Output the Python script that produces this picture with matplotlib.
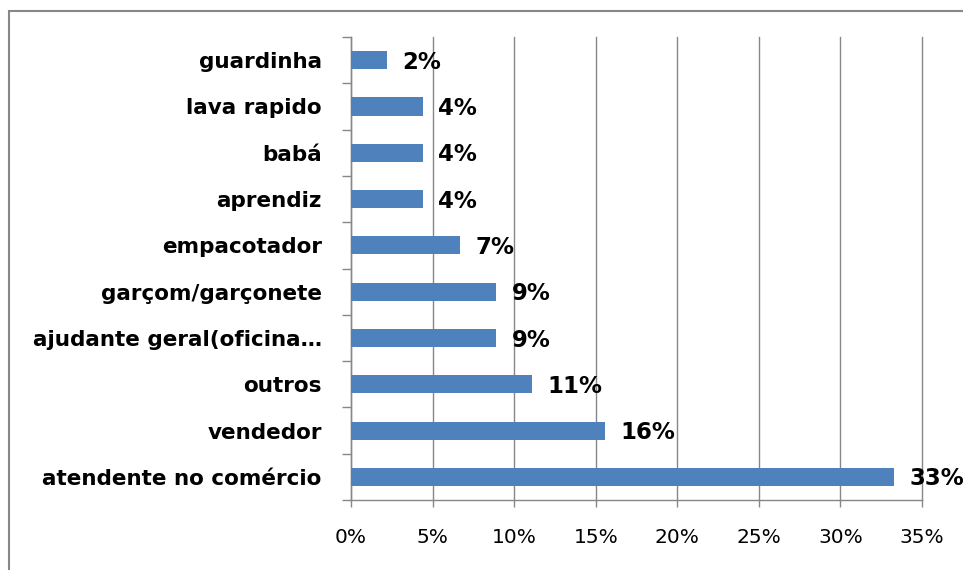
import matplotlib.pyplot as plt
from matplotlib.patches import Rectangle
from matplotlib.ticker import FixedLocator

# dados (de baixo para cima)
ocupacoes = ['atendente no comércio', 'vendedor', 'outros', 'ajudante geral(oficina…',
             'garçom/garçonete', 'empacotador', 'aprendiz', 'babá', 'lava rapido', 'guardinha']
percentuais = [33.3, 15.6, 11.1, 8.9, 8.9, 6.7, 4.4, 4.4, 4.4, 2.2]
rotulos = ['33%', '16%', '11%', '9%', '9%', '7%', '4%', '4%', '4%', '2%']
ticks_x = [0, 5, 10, 15, 20, 25, 30, 35]

plt.rcParams['font.family'] = ['DejaVu Sans']
cinza = '#878787'

fig = plt.figure(figsize=(9.63, 5.7), dpi=100)
ax = fig.add_axes([0.3645, 0.1228, 0.5929, 0.8122])

pos = range(len(ocupacoes))
ax.barh(pos, percentuais, height=0.39, color='#4F81BD', zorder=3)

for i, (v, r) in enumerate(zip(percentuais, rotulos)):
    ax.annotate(r, (v, i), xytext=(11, -1.5), textcoords='offset points',
                ha='left', va='center', fontsize=16.5, fontweight='bold', zorder=4,
                annotation_clip=False)

ax.set_xlim(0, 35)
ax.set_ylim(-0.5, len(ocupacoes) - 0.5)
ax.set_xticks(ticks_x)
ax.set_xticklabels([f'{t}%' for t in ticks_x], fontsize=14.5)
ax.set_yticks(list(pos))
ax.set_yticklabels(ocupacoes, fontsize=15.5, fontweight='bold')
ax.yaxis.set_minor_locator(FixedLocator([i - 0.5 for i in range(len(ocupacoes) + 1)]))

ax.tick_params(axis='y', which='major', length=0, pad=21)
ax.tick_params(axis='y', which='minor', length=6.5, color=cinza, width=1)
ax.tick_params(axis='x', length=5, color=cinza, width=1, pad=15)

ax.grid(axis='x', color=cinza, linewidth=1, zorder=0)
for linha in ax.get_xgridlines():
    linha.set_clip_on(False)
for s in ['top', 'right']:
    ax.spines[s].set_visible(False)
for s in ['left', 'bottom']:
    ax.spines[s].set_color(cinza)
    ax.spines[s].set_linewidth(1)

# moldura externa
fig.patches.append(Rectangle((0.0093, -0.1), 1.2, 1.0807, transform=fig.transFigure,
                             fill=False, edgecolor=cinza, linewidth=1.5))

fig.savefig('out.png', dpi=100)
